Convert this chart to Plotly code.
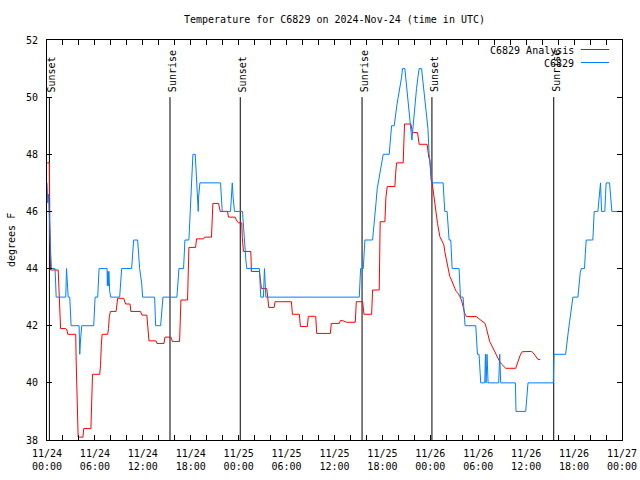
import plotly.graph_objects as go

# ---- data (hours since 2024-11-24 00:00 UTC, temperature in deg F) ----
obs_hours = [0.0, 0.1, 0.2, 0.3, 0.45, 0.56, 1.0, 1.08, 1.15, 2.35, 2.44, 2.55, 2.65, 2.85, 2.93, 3.02,
             4.02, 4.06, 4.1, 4.2, 4.35, 5.85, 5.93, 6.02, 6.35, 6.4, 6.52, 7.52, 7.56, 7.62, 7.68, 7.75,
             7.85, 7.98, 9.1, 9.2, 9.35, 10.6, 10.7, 10.85, 11.35, 11.45, 11.6, 11.85, 11.98, 13.48, 13.55,
             13.6, 14.23, 14.35, 14.52, 16.27, 16.35, 16.52, 17.1, 17.17, 17.27, 17.77, 17.85, 17.95, 18.05,
             18.12, 18.18, 18.27, 18.56, 18.65, 18.75, 18.85, 18.94, 18.98, 19.15, 21.73, 21.8, 21.94,
             22.98, 23.05, 23.12, 23.2, 23.3, 23.48, 24.48, 24.6, 24.75, 24.9, 25.02, 26.6, 26.7, 26.77,
             27.1, 27.23, 27.3, 27.4, 39.1, 39.2, 39.27, 39.6, 39.7, 39.81, 40.77, 40.85, 40.95, 41.06,
             41.2, 41.35, 41.48, 41.7, 41.9, 42.1, 42.85, 42.95, 43.05, 43.15, 43.48, 43.6, 43.8, 43.98,
             44.2, 44.4, 44.52, 44.81, 44.95, 45.1, 45.3, 45.4, 45.56, 45.69, 45.85, 46.05, 46.27, 46.45,
             46.6, 46.9, 47.05, 47.2, 47.35, 47.5, 47.7, 47.85, 47.95, 48.1, 48.23, 49.6, 49.7, 49.81,
             50.1, 50.23, 50.35, 50.56, 50.65, 50.73, 51.6, 51.7, 51.77, 52.1, 52.23, 52.35, 53.69, 53.8,
             53.9, 54.1, 54.2, 54.31, 54.81, 54.9, 54.98, 55.1, 55.23, 56.56, 56.69, 56.81, 58.65, 58.73,
             59.94, 60.1, 60.23, 63.4, 63.45, 63.48, 64.94, 65.1, 65.3, 65.44, 65.65, 65.77, 65.85, 66.48,
             66.6, 66.77, 66.9, 67.31, 67.4, 67.52, 68.35, 68.44, 68.52, 68.98, 69.1, 69.23, 69.31, 69.44,
             69.85, 69.94, 70.02, 70.44, 70.56, 70.73, 72.0]
obs_temps = [47, 46.3, 46.6, 45.4, 44.6, 44, 44, 43.5, 43, 43, 44, 43.5, 43, 43, 42.5, 42,
             42, 41.5, 41, 41.5, 42, 42, 42.5, 43, 43, 43.5, 44, 44, 43.4, 43.9, 43.4, 43.9,
             43.2, 43, 43, 43.5, 44, 44, 44.5, 45, 45, 44.5, 44, 43.5, 43, 43, 42.5,
             42, 42, 42.5, 43, 43, 43.5, 44, 44, 44.5, 45, 45, 45.5, 46, 46.5,
             47, 47.5, 48, 48, 47.5, 47, 46.5, 46, 46.5, 47, 47, 46.5, 46,
             46, 46.5, 47, 47, 46.5, 46, 46, 45.4, 44.8, 44.3, 44, 44, 43.4, 43,
             43, 44, 43.6, 43, 43, 43.6, 44, 44, 44.5, 45, 45, 45.3, 45.7, 46,
             46.3, 46.8, 47, 47.3, 47.7, 48, 48, 48.3, 48.6, 49, 49, 49.3, 49.7, 50,
             50.3, 50.7, 51, 51, 50.6, 50.2, 49.7, 49.4, 49, 48.5, 49, 49.7, 50.3, 50.7,
             51, 51, 50.6, 50.2, 49.7, 49.4, 48.9, 48, 47.7, 47.3, 47, 47, 46.5, 46,
             46, 45.5, 45, 45, 44.5, 44, 44, 43.5, 43, 43, 42.5, 42, 42, 41.5,
             41, 41, 40.5, 40, 40, 41, 40, 41, 40, 40, 41, 40, 40, 39,
             39, 39.6, 40, 40, 40.6, 41, 41, 41.5, 41.85, 42.14, 42.5, 42.8, 43, 43,
             43.5, 43.85, 44, 44, 44.5, 45, 45, 45.5, 46, 46, 46.5, 46.9, 47, 46,
             46, 46.6, 47, 47, 46.6, 46, 46]

ana_hours = [0.0, 0.3, 0.35, 0.45, 1.4, 1.5, 1.6, 1.7, 2.35, 2.5, 2.6, 3.6, 3.65, 3.8, 3.9, 4.5, 4.6,
             5.5, 5.6, 5.7, 6.6, 6.7, 6.8, 6.9, 7.6, 7.7, 7.8, 7.94, 8.65, 8.73, 8.85, 9.6, 9.7, 9.85,
             10.4, 10.5, 11.7, 11.77, 11.9, 12.5, 12.65, 12.77, 13.65, 13.77, 14.65, 14.77, 15.52, 15.7,
             16.6, 16.7, 16.77, 17.6, 17.69, 17.77, 18.6, 18.73, 19.6, 19.73, 20.6, 20.69, 20.77, 21.48,
             21.6, 21.69, 22.6, 22.73, 23.56, 23.7, 23.98, 24.39, 24.45, 24.6, 25.52, 25.6, 26.6, 26.7,
             26.85, 27.52, 27.65, 27.77, 28.44, 28.56, 30.6, 30.73, 31.6, 31.73, 32.6, 32.73, 33.65,
             33.77, 35.48, 35.6, 36.6, 36.73, 37.0, 37.52, 38.6, 38.73, 39.52, 39.6, 39.69, 40.65, 40.77,
             41.6, 41.66, 41.72, 42.31, 42.44, 42.6, 43.56, 43.65, 43.77, 44.6, 44.69, 44.77, 45.56,
             45.65, 45.77, 46.4, 46.5, 46.6, 47.6, 47.7, 47.8, 47.94, 48.1, 48.23, 48.65, 48.9, 49.19,
             49.48, 49.69, 49.81, 50.02, 50.23, 50.44, 50.65, 50.85, 51.06, 51.27, 51.48, 51.69, 51.9,
             52.1, 52.31, 52.52, 52.94, 53.35, 53.77, 54.19, 54.6, 54.85, 55.02, 55.23, 55.44, 55.65,
             55.85, 56.06, 56.27, 56.48, 56.69, 56.9, 57.1, 57.44, 58.69, 58.85, 59.06, 59.27, 59.52,
             60.65, 60.85, 61.06, 61.27, 61.48, 61.77]
ana_temps = [47.7, 47.7, 45.8, 43.95, 43.95, 43.4, 42.4, 41.9, 41.9, 41.85, 41.7, 41.7, 40.8, 39, 38.1, 38.1, 38.4,
             38.4, 39.3, 40.3, 40.3, 40.6, 41.3, 41.7, 41.7, 41.9, 42.3, 42.5, 42.5, 42.7, 42.96, 42.96, 42.9, 42.76,
             42.76, 42.5, 42.5, 42.43, 42.37, 42.37, 41.9, 41.47, 41.47, 41.38, 41.38, 41.6, 41.6, 41.45,
             41.45, 42.14, 42.9, 42.9, 43.8, 44.74, 44.74, 45.04, 45.04, 45.1, 45.1, 45.7, 46.28, 46.28,
             46.17, 46.0, 46.0, 45.8, 45.8, 45.7, 45.6, 45.6, 45.1, 44.6, 44.6, 43.9, 43.9, 43.6,
             43.3, 43.3, 43.0, 42.64, 42.64, 42.84, 42.84, 42.4, 42.4, 41.97, 41.97, 42.33, 42.33,
             41.73, 41.73, 42.08, 42.08, 42.18, 42.18, 42.12, 42.12, 42.84, 42.84, 42.6, 42.4, 42.4, 43.25,
             43.25, 44.6, 45.64, 45.64, 46.5, 46.87, 46.87, 47.3, 47.7, 47.7, 48.4, 49.06, 49.06,
             48.9, 48.76, 48.76, 48.6, 48.35, 48.35, 48.1, 47.9, 47.8, 47.1, 47.0, 46.05, 45.58, 45.12,
             44.94, 44.83, 44.59, 44.3, 43.95, 43.72, 43.6, 43.43, 43.31, 43.19, 43.13, 43.02, 42.9,
             42.67, 42.43, 42.32, 42.32, 42.34, 42.32, 42.22, 42.14, 42.08, 41.91, 41.62, 41.44, 41.33,
             41.21, 41.09, 40.98, 40.86, 40.74, 40.66, 40.59, 40.51, 40.51, 40.63, 40.8, 40.98, 41.09,
             41.1, 41.06, 40.98, 40.89, 40.82, 40.82]

event_hours = [0.3, 15.4, 24.2, 39.45, 48.2, 63.45]
event_labels = ["Sunset", "Sunrise", "Sunset", "Sunrise", "Sunset", "Sunrise"]
event_bottom = 38
event_top = 50

tick_hours = list(range(0, 73, 2))
tick_labels = {0: "11/24<br>00:00", 6: "11/24<br>06:00", 12: "11/24<br>12:00", 18: "11/24<br>18:00",
               24: "11/25<br>00:00", 30: "11/25<br>06:00", 36: "11/25<br>12:00", 42: "11/25<br>18:00",
               48: "11/26<br>00:00", 54: "11/26<br>06:00", 60: "11/26<br>12:00", 66: "11/26<br>18:00",
               72: "11/27<br>00:00"}
y_ticks = [38, 40, 42, 44, 46, 48, 50, 52]

series_names = ["C6829 Analysis", "C6829"]
series_colors = ["#ff0000", "#0080ff"]

FONT = "DejaVu Sans Mono"

fig = go.Figure()

# sunrise / sunset vertical lines
ev_x, ev_y = [], []
for h in event_hours:
    ev_x += [h, h, None]
    ev_y += [event_bottom, event_top, None]
fig.add_trace(go.Scatter(x=ev_x, y=ev_y, mode="lines", line=dict(color="black", width=1),
                         showlegend=False, hoverinfo="skip"))

fig.add_trace(go.Scatter(x=ana_hours, y=ana_temps, mode="lines", name=series_names[0],
                         line=dict(color=series_colors[0], width=1)))
fig.add_trace(go.Scatter(x=obs_hours, y=obs_temps, mode="lines", name=series_names[1],
                         line=dict(color=series_colors[1], width=1)))

for h, lab in zip(event_hours, event_labels):
    fig.add_annotation(x=h, y=event_top, xref="x", yref="y", text=lab, textangle=-90,
                       showarrow=False, xanchor="center", yanchor="bottom", xshift=2, yshift=3,
                       font=dict(family=FONT, size=10, color="black"))

# legend drawn manually (text left of line sample, gnuplot style)
L, R, T, B = 47, 18, 40, 40
W, H = 640 - L - R, 480 - T - B
def px2paper(px, py):
    return (px - L) / W, (480 - B - py) / H

for i, (name, col) in enumerate(zip(series_names, series_colors)):
    py = 50 + 13 * i
    tx, ty = px2paper(576, py)
    fig.add_annotation(x=tx, y=ty, xref="paper", yref="paper", text=name, showarrow=False,
                       xanchor="right", yanchor="middle",
                       font=dict(family=FONT, size=10, color="black"))
    x0, y0 = px2paper(581, py - 0.5)
    x1, _ = px2paper(609, py - 0.5)
    fig.add_shape(type="line", xref="paper", yref="paper", x0=x0, x1=x1, y0=y0, y1=y0,
                  line=dict(color=col, width=1))

# y axis title
yx, yy = px2paper(11, 240)
fig.add_annotation(x=yx, y=yy, xref="paper", yref="paper", text="degrees F", textangle=-90,
                   showarrow=False, xanchor="center", yanchor="middle",
                   font=dict(family=FONT, size=10, color="black"))

fig.update_layout(
    width=640, height=480,
    margin=dict(l=L, r=R, t=T, b=B, pad=0, autoexpand=False),
    paper_bgcolor="white", plot_bgcolor="white",
    showlegend=False,
    font=dict(family=FONT, size=10, color="black"),
    title=dict(text="Temperature for C6829 on 2024-Nov-24 (time in UTC)",
               x=(L + W / 2) / 640, xanchor="center", y=1 - 19 / 480, yanchor="middle",
               xref="container", yref="container", automargin=False,
               font=dict(family=FONT, size=10, color="black")),
    xaxis=dict(range=[0, 72], tickmode="array", tickvals=tick_hours,
               ticktext=[tick_labels.get(h, "") for h in tick_hours],
               ticks="inside", ticklen=5, tickcolor="black", tickwidth=1,
               showline=True, linecolor="black", linewidth=1, mirror="ticks",
               showgrid=False, zeroline=False, ticklabelstandoff=4, automargin=False),
    yaxis=dict(range=[38, 52], tickmode="array", tickvals=y_ticks,
               ticks="inside", ticklen=5, tickcolor="black", tickwidth=1,
               showline=True, linecolor="black", linewidth=1, mirror="ticks",
               showgrid=False, zeroline=False, ticklabelstandoff=6, automargin=False),
)

fig.write_html("out.html", config={"displayModeBar": False},
               post_script="document.body.style.margin='0px';document.body.style.overflow='hidden';")
